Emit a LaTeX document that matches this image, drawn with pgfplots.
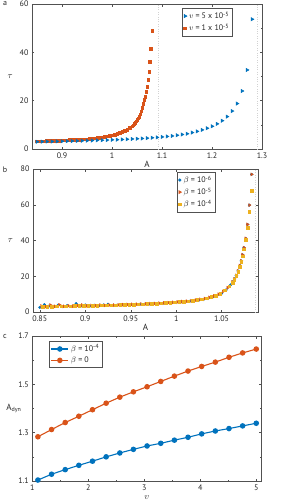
\documentclass[border=0pt]{standalone}
\usepackage{fontspec}
\setmainfont{PT Sans}
\usepackage{pgfplots}
\pgfplotsset{compat=1.18}
\definecolor{mblue}{RGB}{0,114,189}
\definecolor{morange}{RGB}{217,83,25}
\definecolor{myellow}{RGB}{237,177,32}
\definecolor{axgray}{RGB}{38,38,38}
\pgfplotsset{mystyle/.style={
  scale only axis,
  axis line style={axgray!80, line width=0.5pt},
  tick style={axgray!80, line width=0.4pt},
  major tick length=2.5pt, minor tick length=1.5pt,
  tick align=inside,
  tick label style={font=\footnotesize, text=axgray},
  /pgf/number format/assume math mode=true,
  label style={font=\small, text=axgray},
  legend style={font=\footnotesize, draw=axgray!80, line width=0.5pt, inner sep=1.5pt, row sep=-0.5pt, text=axgray},
  legend cell align=left,
}}
\begin{document}
\begin{tikzpicture}[x=1pt,y=1pt]
\path[use as bounding box] (0,0) rectangle (281,-503);
\node[font=\footnotesize, text=axgray] at (5,-4) {a};
\node[font=\footnotesize, text=axgray] at (5,-170) {b};
\node[font=\footnotesize, text=axgray] at (5,-336) {c};
% ---------------- panel a
\begin{axis}[mystyle, at={(32pt,-149pt)}, anchor=south west,
  width=230pt, height=145pt,
  xmin=0.84, xmax=1.3, ymin=0, ymax=60,
  xtick={0.9,1,1.1,1.2,1.3}, ytick={0,20,40,60}, minor ytick={10,30,50},
  xlabel={A}, ylabel={$\tau$},
  ylabel style={rotate=-90, at={(rel axis cs:-0.095,0.5)}, anchor=center},
  xlabel style={yshift=4pt},
  reverse legend,
  legend style={at={(rel axis cs:0.652,0.972)}, anchor=north west},
]
\addplot[gray!35, dotted, forget plot] coordinates {(1.093,0) (1.093,60)};
\addplot[gray!35, dotted, forget plot] coordinates {(1.291,0) (1.291,60)};
\addplot[only marks, mark=square*, mark size=1.3pt, color=morange] coordinates {
(0.850,3.2)(0.855,3.23)(0.860,3.26)(0.865,3.3)(0.870,3.33)(0.875,3.37)(0.880,3.41)(0.885,3.45)(0.890,3.5)(0.895,3.55)
(0.900,3.6)(0.905,3.64)(0.910,3.68)(0.915,3.73)(0.920,3.78)(0.925,3.83)(0.930,3.88)(0.935,3.94)(0.940,4.0)(0.945,4.05)
(0.950,4.1)(0.955,4.22)(0.960,4.34)(0.965,4.47)(0.970,4.6)(0.975,4.76)(0.980,4.93)(0.985,5.1)(0.990,5.3)(0.995,5.5)
(1.000,5.7)(1.005,6.0)(1.010,6.35)(1.015,6.7)(1.020,7.1)(1.025,7.6)(1.030,8.1)(1.035,8.75)(1.040,9.5)(1.042,9.9)
(1.044,10.4)(1.046,10.9)(1.048,11.5)(1.050,12.1)(1.052,12.7)(1.054,13.4)(1.056,14.4)(1.058,15.6)(1.060,17.0)(1.062,18.8)
(1.064,20.3)(1.066,21.7)(1.068,23.7)(1.070,25.8)(1.072,28.7)(1.074,31.9)(1.0755,36.1)(1.077,41.4)(1.080,48.9)
};
\addlegendentry{$v$ = 1 x 10\textsuperscript{-5}}
\addplot[only marks, mark=triangle*, mark size=2pt, mark options={rotate=-90}, color=mblue] coordinates {
(0.85,3.0)(0.86,3.05)(0.87,3.1)(0.88,3.1)(0.89,3.15)(0.90,3.2)(0.91,3.25)(0.92,3.3)(0.93,3.35)(0.94,3.4)
(0.95,3.45)(0.96,3.5)(0.97,3.6)(0.98,3.65)(0.99,3.7)(1.00,3.8)(1.01,3.85)(1.02,3.95)(1.03,4.05)(1.04,4.15)
(1.05,4.25)(1.06,4.35)(1.07,4.5)(1.08,4.65)(1.09,4.8)(1.10,5.0)(1.11,5.2)(1.12,5.4)(1.13,5.7)(1.14,6.0)
(1.15,6.3)(1.16,6.8)(1.17,7.3)(1.18,7.9)(1.19,8.6)(1.20,9.4)(1.21,10.4)(1.22,11.7)(1.23,13.4)(1.24,15.7)
(1.25,18.8)(1.26,24.0)(1.27,32.7)(1.28,53.7)
};
\addlegendentry{$v$ = 5 x 10\textsuperscript{-5}}
\end{axis}
% ---------------- panel b
\begin{axis}[mystyle, at={(33pt,-312pt)}, anchor=south west,
  width=225pt, height=143pt,
  xmin=0.8425, xmax=1.09, ymin=0, ymax=80,
  xtick={0.85,0.9,0.95,1,1.05}, ytick={0,20,40,60,80},
  xticklabel style={/pgf/number format/fixed},
  xlabel={A}, ylabel={$\tau$},
  ylabel style={rotate=-90, at={(rel axis cs:-0.1,0.5)}, anchor=center},
  xlabel style={yshift=4pt},
  legend style={at={(rel axis cs:0.639,0.979)}, anchor=north west},
]
\addplot[gray!35, dotted, forget plot] coordinates {(1.0866,0) (1.0866,80)};
\addplot[only marks, mark=*, mark size=1.3pt, color=mblue] coordinates {
(0.850,2.6)(0.855,4.1)(0.860,3.3)(0.865,2.8)(0.870,3.8)(0.875,3.0)(0.880,3.6)(0.885,3.1)(0.890,4.7)(0.895,3.2)
(0.900,3.9)(0.905,3.3)(0.910,3.8)(0.915,3.4)(0.920,3.9)(0.925,4.3)(0.930,3.7)(0.935,3.8)(0.940,3.9)(0.945,4.2)
(0.950,4.0)(0.955,4.1)(0.960,4.3)(0.965,4.3)(0.970,4.4)(0.975,4.5)(0.980,4.6)(0.985,4.8)(0.990,4.9)(0.995,5.1)
(1.000,5.3)(1.005,5.5)(1.010,5.7)(1.015,6.0)(1.020,6.3)(1.025,6.6)(1.030,7.0)(1.035,7.6)(1.040,8.3)(1.045,9.2)
(1.050,10.4)(1.055,12.4)(1.060,15.2)(1.062,16.8)(1.064,18.5)(1.066,20.5)(1.068,23)(1.070,26)(1.0715,28.6)(1.073,32)
(1.0745,36)(1.0765,41.2)(1.0785,49)(1.0805,59.8)(1.083,77)
};
\addlegendentry{$\beta$ = 10\textsuperscript{-6}}
\addplot[only marks, mark=triangle*, mark size=1.7pt, mark options={rotate=-90}, color=morange] coordinates {
(0.8517,3.4)(0.8567,3.0)(0.8617,3.9)(0.8667,3.2)(0.8717,4.0)(0.8767,3.2)(0.8817,3.5)(0.8867,3.3)(0.8917,3.6)(0.8967,3.9)
(0.9017,3.4)(0.9067,3.7)(0.9117,3.6)(0.9167,3.9)(0.9217,3.7)(0.9267,3.9)(0.9317,3.9)(0.9367,4.0)(0.9417,4.1)(0.9467,4.2)
(0.9517,4.3)(0.9567,4.4)(0.9617,4.5)(0.9667,4.6)(0.9717,4.7)(0.9767,4.8)(0.9817,4.95)(0.9867,5.1)(0.9917,5.25)(0.9967,5.45)
(1.0017,5.65)(1.0067,5.85)(1.0117,6.1)(1.0167,6.35)(1.0217,6.7)(1.0267,7.1)(1.0317,7.55)(1.0367,8.2)(1.0417,9.0)(1.0467,10.0)
(1.0517,11.5)(1.0567,13.6)(1.062,16.8)(1.064,18.5)(1.066,20.5)(1.068,23)(1.070,26)(1.0715,28.6)(1.073,32)
(1.0745,36)(1.0765,41.2)(1.0785,49)(1.0805,59.8)(1.083,77)
};
\addlegendentry{$\beta$ = 10\textsuperscript{-5}}
\addplot[only marks, mark=square*, mark size=1.3pt, color=myellow] coordinates {
(0.8533,3.0)(0.8583,3.1)(0.8633,3.1)(0.8683,3.2)(0.8733,3.25)(0.8783,3.3)(0.8833,3.35)(0.8883,3.4)(0.8933,3.45)(0.8983,3.5)
(0.9033,3.55)(0.9083,3.6)(0.9133,3.65)(0.9183,3.7)(0.9233,3.75)(0.9283,3.82)(0.9333,3.9)(0.9383,3.97)(0.9433,4.05)(0.9483,4.15)
(0.9533,4.25)(0.9583,4.35)(0.9633,4.45)(0.9683,4.55)(0.9733,4.67)(0.9783,4.8)(0.9833,4.95)(0.9883,5.1)(0.9933,5.27)(0.9983,5.45)
(1.0033,5.65)(1.0083,5.88)(1.0133,6.12)(1.0183,6.42)(1.0233,6.78)(1.0283,7.18)(1.0333,7.7)(1.0383,8.4)(1.0433,9.25)(1.0483,10.4)
(1.0533,12.1)(1.0583,14.5)(1.062,16.5)(1.064,18.2)(1.066,20.2)(1.068,22.5)(1.070,25.3)(1.0715,28)(1.073,31.2)
(1.0745,35.2)(1.0765,40.5)(1.0785,47.3)(1.0805,56)(1.083,67.8)
};
\addlegendentry{$\beta$ = 10\textsuperscript{-4}}
\end{axis}
% ---------------- panel c
\begin{axis}[mystyle, at={(32.3pt,-481pt)}, anchor=south west,
  width=229pt, height=145pt,
  xmin=1, xmax=5.09, ymin=1.1, ymax=1.7,
  xtick={1,2,3,4,5}, minor xtick={1.5,2.5,3.5,4.5},
  ytick={1.1,1.3,1.5,1.7}, minor ytick={1.2,1.4,1.6},
  yticklabel style={/pgf/number format/fixed, /pgf/number format/precision=1},
  xlabel={$v$}, ylabel={A\textsubscript{dyn}},
  ylabel style={rotate=-90, at={(rel axis cs:-0.08,0.5)}, anchor=center},
  xlabel style={yshift=1pt},
  legend style={at={(rel axis cs:0.073,0.966)}, anchor=north west},
]
\addplot[mblue, line width=1.1pt, mark=*, mark size=2.2pt] coordinates {
(1.1,1.104)(1.344,1.128)(1.588,1.147)(1.831,1.165)(2.075,1.182)(2.319,1.200)(2.563,1.216)(2.806,1.231)(3.05,1.245)
(3.294,1.256)(3.538,1.269)(3.781,1.281)(4.025,1.295)(4.269,1.307)(4.513,1.317)(4.756,1.328)(5.0,1.339)
};
\addlegendentry{$\beta$ = 10\textsuperscript{-4}}
\addplot[morange, line width=1.1pt, mark=*, mark size=2.2pt] coordinates {
(1.1,1.283)(1.344,1.313)(1.588,1.342)(1.831,1.368)(2.075,1.395)(2.319,1.422)(2.563,1.447)(2.806,1.469)(3.05,1.490)
(3.294,1.512)(3.538,1.534)(3.781,1.555)(4.025,1.574)(4.269,1.592)(4.513,1.612)(4.756,1.630)(5.0,1.646)
};
\addlegendentry{$\beta$ = 0}
\node[font=\scriptsize, text=axgray, anchor=north west] at (rel axis cs:0.975,-0.055) {x10\textsuperscript{-5}};
\end{axis}
\end{tikzpicture}
\end{document}
